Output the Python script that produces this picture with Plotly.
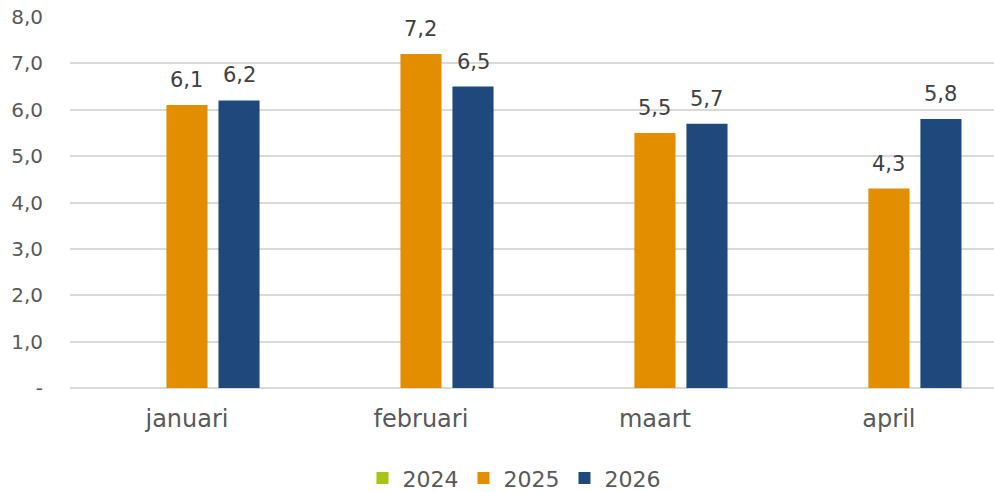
import plotly.graph_objects as go

months = ["januari", "februari", "maart", "april"]
series_names = ["2024", "2025", "2026"]
values_2024 = [None, None, None, None]
values_2025 = [6.1, 7.2, 5.5, 4.3]
values_2026 = [6.2, 6.5, 5.7, 5.8]
y_tick_vals = [0, 1, 2, 3, 4, 5, 6, 7, 8]
y_tick_text = ["-", "1,0", "2,0", "3,0", "4,0", "5,0", "6,0", "7,0", "8,0"]

colors = ["#A9C415", "#E38D00", "#1F487C"]
all_values = [values_2024, values_2025, values_2026]

FONT = "DejaVu Sans"
BARGAP = 0.333
BARGROUPGAP = 0.21

fig = go.Figure()
for name, vals, col in zip(series_names, all_values, colors):
    fig.add_trace(go.Bar(
        x=months, y=vals, name=name, marker=dict(color=col, line=dict(width=0)),
    ))

# data labels as annotations above each bar
n = len(series_names)
slot = (1 - BARGAP) / n
for k, vals in enumerate(all_values):
    for i, v in enumerate(vals):
        if v is None:
            continue
        fig.add_annotation(
            x=i + (k - (n - 1) / 2) * slot, y=v, xref="x", yref="y",
            text=f"{v:.1f}".replace(".", ","), showarrow=False,
            yanchor="middle", yshift=25,
            font=dict(family=FONT, size=21, color="#404040"),
        )

fig.update_layout(
    width=994, height=492,
    margin=dict(l=70, r=0, t=17, b=104, autoexpand=False),
    plot_bgcolor="white", paper_bgcolor="white",
    barmode="group", bargap=BARGAP, bargroupgap=BARGROUPGAP,
    font=dict(family=FONT, color="#595959"),
    showlegend=True,
    legend=dict(orientation="h", x=0.4805, xanchor="center", y=-0.243, yanchor="middle",
                font=dict(family=FONT, size=22, color="#595959"),
                entrywidth=56, entrywidthmode="pixels",
                itemsizing="constant", traceorder="normal"),
    xaxis=dict(type="category", range=[-0.5, 3.449], showgrid=False, showline=False,
               automargin=False, ticks="", ticklabelstandoff=14,
               tickfont=dict(family=FONT, size=24, color="#595959")),
    yaxis=dict(range=[0, 8], tickvals=y_tick_vals, ticktext=y_tick_text,
               showgrid=True, gridcolor="#D9D9D9", gridwidth=2,
               zeroline=True, zerolinecolor="#D9D9D9", zerolinewidth=2,
               showline=False, ticks="", ticklabelstandoff=26, automargin=False,
               tickfont=dict(family=FONT, size=20, color="#595959")),
)

fig.write_html(
    "out.html",
    config={"displayModeBar": False},
    post_script="document.body.style.margin='0';document.body.style.overflow='hidden';",
)
